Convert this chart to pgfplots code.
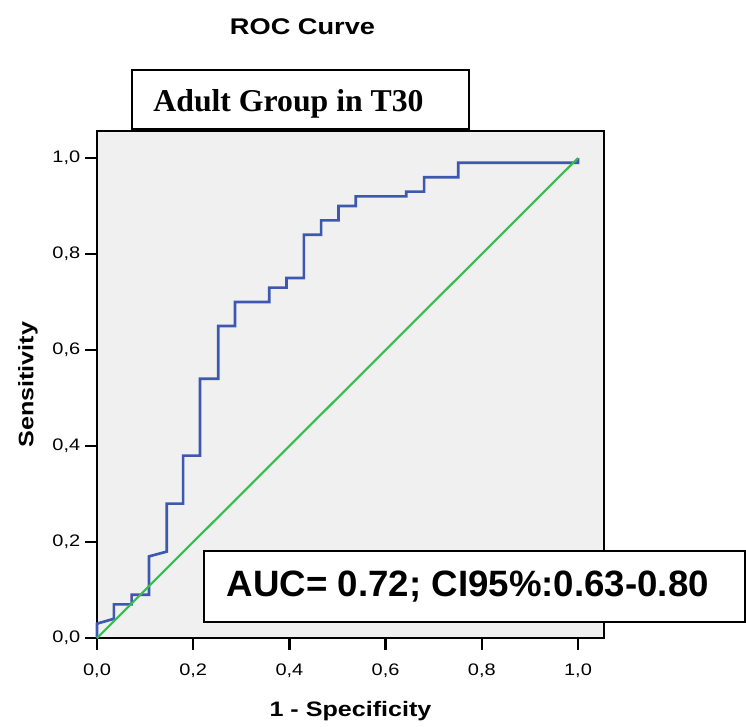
\documentclass[border=0pt]{standalone}
\usepackage{pgfplots}
\pgfplotsset{compat=1.18}
\usepackage{fontspec}
\setmainfont{Liberation Sans}
\newfontfamily\spss{Liberation Sans}[FakeStretch=1.2]
\newfontfamily\serif{Liberation Serif}
\definecolor{bgc}{RGB}{240,240,240}
\definecolor{rocblue}{RGB}{62,88,178}
\definecolor{rocgreen}{RGB}{52,190,75}
\begin{document}
\begin{tikzpicture}[x=0.75pt,y=-0.75pt]
\useasboundingbox (0,0) rectangle (746,726);
\begin{axis}[
  at={(72.75pt,-478.5pt)}, anchor=south west,
  scale only axis, width=380.25pt, height=380.25pt,
  xmin=0, xmax=1.05405, ymin=0, ymax=1.05625,
  axis background/.style={fill=bgc},
  axis line style={line width=1.8pt, black},
  xtick={0,0.2,0.4,0.6,0.8,1}, ytick={0,0.2,0.4,0.6,0.8,1},
  xtick pos=bottom, ytick pos=left,
  tick align=outside, major tick length=9pt,
  tick style={black, line width=1.8pt},
  tick label style={font=\spss\fontsize{12.5}{14}\selectfont},
  xticklabel style={yshift=-7pt},
  /pgf/number format/.cd, use comma, fixed, fixed zerofill, precision=1, assume math mode=true,
  /pgfplots/.cd,
  clip=false,
]
\addplot[rocblue, line width=2pt] coordinates {
 (0,0) (0,0.03) (0.035,0.04) (0.035,0.07) (0.072,0.07) (0.072,0.09)
 (0.108,0.09) (0.108,0.17) (0.145,0.18) (0.145,0.28) (0.179,0.28)
 (0.179,0.38) (0.214,0.38) (0.214,0.54) (0.252,0.54) (0.252,0.65)
 (0.287,0.65) (0.287,0.70) (0.358,0.70) (0.358,0.73) (0.394,0.73)
 (0.394,0.75) (0.430,0.75) (0.430,0.84) (0.466,0.84) (0.466,0.87)
 (0.502,0.87) (0.502,0.90) (0.538,0.90) (0.538,0.92) (0.643,0.92)
 (0.643,0.93) (0.680,0.93) (0.680,0.96) (0.751,0.96) (0.751,0.99)
 (1,0.99) (1,1)
};
\addplot[rocgreen, line width=1.6pt] coordinates {(0,0) (1,1)};
\end{axis}
\node[anchor=base, inner sep=0, font=\spss\bfseries\fontsize{17}{20}\selectfont] at (302.5,34.3) {ROC Curve};
\draw[line width=1.5pt, fill=white] (132.3,70) rectangle (469.1,129.3);
\node[anchor=base west, inner sep=0, font=\serif\bfseries\fontsize{23.8}{28}\selectfont] at (153.2,111.7) {Adult Group in T30};
\node[anchor=base, inner sep=0, font=\spss\bfseries\fontsize{15.7}{18}\selectfont] at (350.5,716.7) {1 - Specificity};
\node[rotate=90, anchor=base, inner sep=0, font=\spss\bfseries\fontsize{15.7}{18}\selectfont] at (33.3,384.8) {Sensitivity};
\draw[line width=1.5pt, fill=white] (203.8,550.7) rectangle (745,621.7);
\node[anchor=base west, inner sep=0, font=\bfseries\fontsize{27.5}{32}\selectfont] at (226.6,596.7) {AUC= 0.72; CI95\%:0.63-0.80};
\end{tikzpicture}
\end{document}
